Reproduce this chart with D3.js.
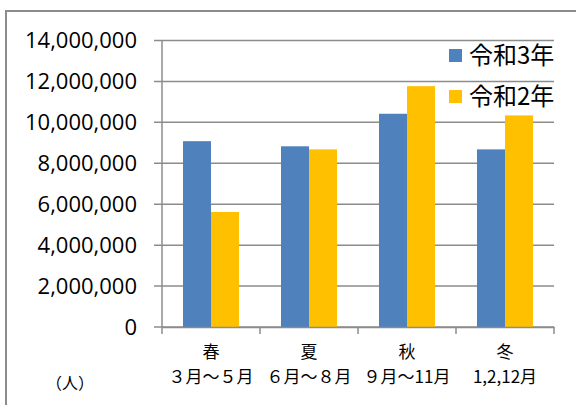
<!DOCTYPE html>
<html>
<head>
<meta charset="utf-8">
<script src="https://cdn.jsdelivr.net/npm/d3@7"></script>
<style>
  body { margin: 0; background: #fff; }
  svg { display: block; }
  .tickLabel { font-family: "Open Sans", "Noto Sans CJK JP", sans-serif; font-size: 22px; fill: #000; }
  .jp { font-family: "Noto Sans CJK JP", sans-serif; fill: #000; }
</style>
</head>
<body>
<div id="chart"></div>
<script>
// data
var seasons = ["春", "夏", "秋", "冬"];
var months = ["３月～５月", "６月～８月", "９月～11月", "1,2,12月"];
var seriesNames = ["令和3年", "令和2年"];
var r3 = [9080000, 8830000, 10420000, 8680000];
var r2 = [5620000, 8680000, 11770000, 10340000];
var yTicks = [0, 2000000, 4000000, 6000000, 8000000, 10000000, 12000000, 14000000];
var colors = ["#4F81BD", "#FFC000"];

var svgWidth = 576, svgHeight = 405;
var margin = { left: 162, top: 40.5, right: 22, bottom: 78 };
var width = svgWidth - margin.left - margin.right;
var height = svgHeight - margin.top - margin.bottom;

var svg = d3.select("#chart").append("svg")
  .attr("width", svgWidth)
  .attr("height", svgHeight);

// outer frame (cropped on right and bottom)
svg.append("path")
  .attr("d", "M6," + (svgHeight + 5) + " V11 H" + (svgWidth + 5))
  .attr("fill", "none")
  .attr("stroke", "#8c8c8c")
  .attr("stroke-width", 2);

var chartGroup = svg.append("g")
  .attr("transform", `translate(${margin.left}, ${margin.top})`);

var xScale = d3.scaleBand()
  .domain(seasons)
  .range([0, width]);

var xInner = d3.scaleBand()
  .domain(seriesNames)
  .range([0, xScale.bandwidth()])
  .paddingInner(0)
  .paddingOuter(0.75);

var yScale = d3.scaleLinear()
  .domain([0, 14000000])
  .range([height, 0]);

// gridlines
chartGroup.append("g")
  .selectAll("line")
  .data(yTicks)
  .enter()
  .append("line")
  .attr("x1", -8)
  .attr("x2", width)
  .attr("y1", d => yScale(d))
  .attr("y2", d => yScale(d))
  .attr("stroke", "#8c8c8c")
  .attr("stroke-width", 1.5);

// y labels
chartGroup.append("g")
  .selectAll("text")
  .data(yTicks)
  .enter()
  .append("text")
  .attr("class", "tickLabel")
  .attr("x", -25)
  .attr("y", d => yScale(d))
  .attr("dy", "0.36em")
  .attr("text-anchor", "end")
  .text(d => d3.format(",")(d));

// bars
var rows = seasons.map((s, i) => ({ season: s, values: [r3[i], r2[i]] }));
var groups = chartGroup.selectAll(".season")
  .data(rows)
  .enter()
  .append("g")
  .attr("transform", d => `translate(${xScale(d.season)}, 0)`);

groups.selectAll("rect")
  .data(d => d.values.map((v, j) => ({ name: seriesNames[j], value: v, j: j })))
  .enter()
  .append("rect")
  .attr("x", d => xInner(d.name))
  .attr("width", xInner.bandwidth())
  .attr("y", d => yScale(d.value))
  .attr("height", d => height - yScale(d.value))
  .attr("fill", d => colors[d.j]);

// axes lines
chartGroup.append("line")
  .attr("x1", 0).attr("x2", 0)
  .attr("y1", 0).attr("y2", height)
  .attr("stroke", "#8c8c8c")
  .attr("stroke-width", 1.5);

var xAxis = d3.axisBottom(xScale).tickSize(0).tickFormat("");
var xAxisG = chartGroup.append("g")
  .attr("transform", `translate(0, ${height})`)
  .call(xAxis);
xAxisG.select(".domain").attr("stroke", "#8c8c8c").attr("stroke-width", 1.5);

// category boundary ticks
var bounds = seasons.map(s => xScale(s)).concat([width]);
chartGroup.append("g")
  .selectAll("line")
  .data(bounds)
  .enter()
  .append("line")
  .attr("x1", d => d).attr("x2", d => d)
  .attr("y1", height).attr("y2", height + 7)
  .attr("stroke", "#8c8c8c")
  .attr("stroke-width", 1.5);

// category labels
chartGroup.append("g")
  .selectAll("text")
  .data(seasons)
  .enter()
  .append("text")
  .attr("class", "jp")
  .attr("font-size", 17)
  .attr("text-anchor", "middle")
  .attr("x", d => xScale(d) + xScale.bandwidth() / 2)
  .attr("y", height + 25)
  .attr("dy", "0.36em")
  .text(d => d);

chartGroup.append("g")
  .selectAll("text")
  .data(months)
  .enter()
  .append("text")
  .attr("class", "jp")
  .attr("font-size", 17)
  .attr("text-anchor", "middle")
  .attr("x", (d, i) => xScale(seasons[i]) + xScale.bandwidth() / 2)
  .attr("y", height + 50)
  .attr("dy", "0.36em")
  .text(d => d);

// unit label
svg.append("text")
  .attr("class", "jp")
  .attr("font-size", 16)
  .attr("text-anchor", "middle")
  .attr("x", 70)
  .attr("y", 383)
  .attr("dy", "0.36em")
  .text("（人）");

// legend
var legend = svg.append("g")
  .selectAll("g")
  .data(seriesNames)
  .enter()
  .append("g")
  .attr("transform", (d, i) => `translate(449, ${49 + i * 41})`);

legend.append("rect")
  .attr("width", 13)
  .attr("height", 13)
  .attr("fill", (d, i) => colors[i]);

legend.append("text")
  .attr("class", "jp")
  .attr("font-size", 24)
  .attr("x", 20)
  .attr("y", 6.5)
  .attr("dy", "0.36em")
  .text(d => d);
</script>
</body>
</html>
